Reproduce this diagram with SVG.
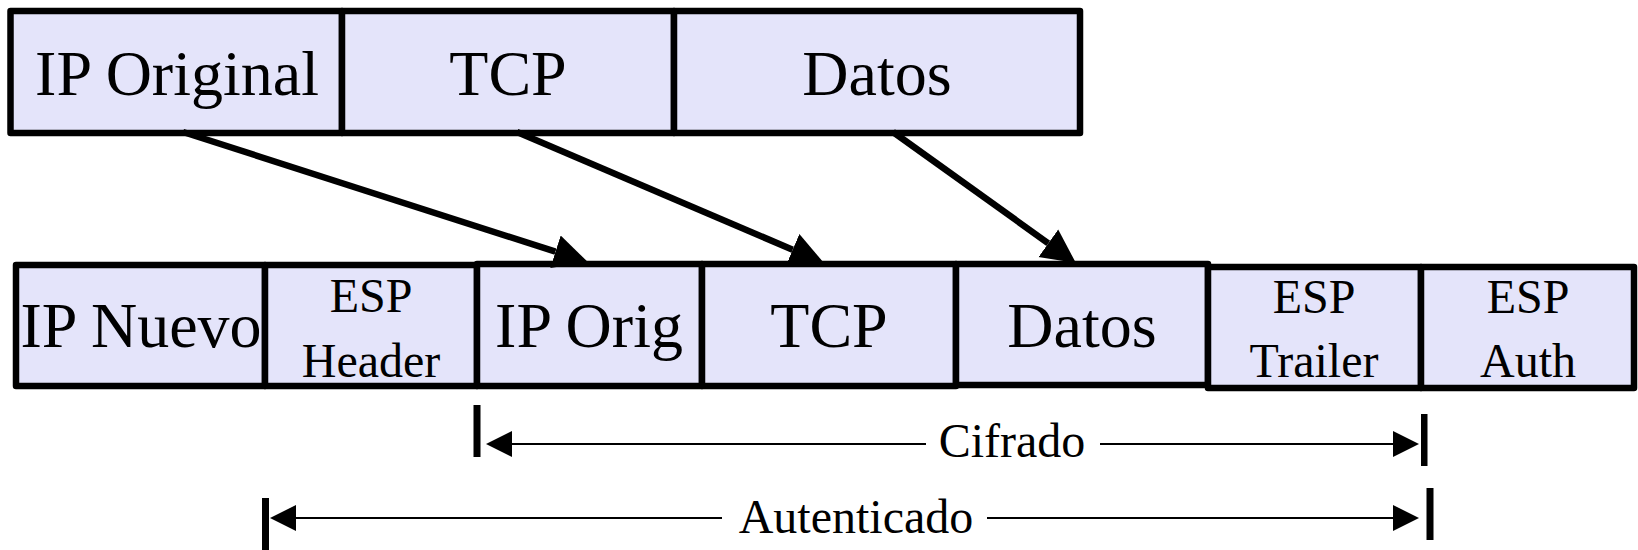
<svg xmlns="http://www.w3.org/2000/svg" width="1638" height="550" viewBox="0 0 1638 550">
<style>
.cell{fill:#E4E4FA;stroke:#000;stroke-width:6.5;stroke-linejoin:round}
.big{font-family:"Liberation Serif","Times New Roman",serif;font-size:64px;text-anchor:middle;fill:#000}
.sm{font-family:"Liberation Serif","Times New Roman",serif;font-size:48px;text-anchor:middle;fill:#000}
.arr{stroke:#000;stroke-width:6.5;fill:none}
.dim{stroke:#000;stroke-width:2.2;fill:none}
.tick{fill:#000}
</style>
<defs>
<marker id="bigHead" markerUnits="userSpaceOnUse" markerWidth="40" markerHeight="40" viewBox="0 -20 40 40" refX="0" refY="0" orient="auto">
<path d="M0,-17 L34,0 L0,17 z" fill="#000"/>
</marker>
<marker id="dimHead" markerUnits="userSpaceOnUse" markerWidth="30" markerHeight="30" viewBox="0 -15 30 30" refX="0" refY="0" orient="auto">
<path d="M0,-13 L26,0 L0,13 z" fill="#000"/>
</marker>
</defs>

<g id="top-ip-original"><rect class="cell" x="10.5" y="11" width="331.5" height="122"/><text class="big" x="177" y="95">IP Original</text></g>
<g id="top-tcp"><rect class="cell" x="342" y="11" width="332" height="122"/><text class="big" x="508" y="95">TCP</text></g>
<g id="top-datos"><rect class="cell" x="674" y="11" width="406" height="122"/><text class="big" x="877" y="95">Datos</text></g>

<g id="ip-nuevo"><rect class="cell" x="16" y="265" width="249" height="121"/><text class="big" x="141" y="347">IP Nuevo</text></g>
<g id="esp-header"><rect class="cell" x="265" y="265" width="212" height="121"/><text class="sm" x="371" y="312">ESP</text><text class="sm" x="371" y="377">Header</text></g>
<g id="ip-orig"><rect class="cell" x="477" y="264" width="225" height="122"/><text class="big" x="589" y="347">IP Orig</text></g>
<g id="tcp"><rect class="cell" x="702" y="264" width="254" height="122"/><text class="big" x="829" y="347">TCP</text></g>
<g id="datos"><rect class="cell" x="956" y="264" width="252" height="121"/><text class="big" x="1082" y="347">Datos</text></g>
<g id="esp-trailer"><rect class="cell" x="1208" y="267" width="213" height="121"/><text class="sm" x="1314" y="313">ESP</text><text class="sm" x="1314" y="377">Trailer</text></g>
<g id="esp-auth"><rect class="cell" x="1421" y="267" width="213" height="121"/><text class="sm" x="1528" y="313">ESP</text><text class="sm" x="1528" y="377">Auth</text></g>

<g id="connectors">
<line class="arr" x1="183" y1="132" x2="555.5" y2="251.7" marker-end="url(#bigHead)"/>
<line class="arr" x1="517" y1="132" x2="792.7" y2="249.7" marker-end="url(#bigHead)"/>
<line class="arr" x1="893" y1="132" x2="1048.3" y2="243.3" marker-end="url(#bigHead)"/>
</g>

<g id="cifrado">
<rect class="tick" x="473.5" y="405" width="7" height="52"/>
<rect class="tick" x="1421" y="414" width="6.5" height="52"/>
<line class="dim" x1="926" y1="444" x2="512" y2="444" marker-end="url(#dimHead)"/>
<line class="dim" x1="1100" y1="444" x2="1393" y2="444" marker-end="url(#dimHead)"/>
<text class="sm" x="1012" y="457">Cifrado</text>
</g>
<g id="autenticado">
<rect class="tick" x="262" y="498" width="7" height="52"/>
<rect class="tick" x="1426.5" y="488" width="7" height="52"/>
<line class="dim" x1="722" y1="518" x2="296" y2="518" marker-end="url(#dimHead)"/>
<line class="dim" x1="987" y1="518" x2="1393" y2="518" marker-end="url(#dimHead)"/>
<text class="sm" x="856" y="533">Autenticado</text>
</g>
</svg>
